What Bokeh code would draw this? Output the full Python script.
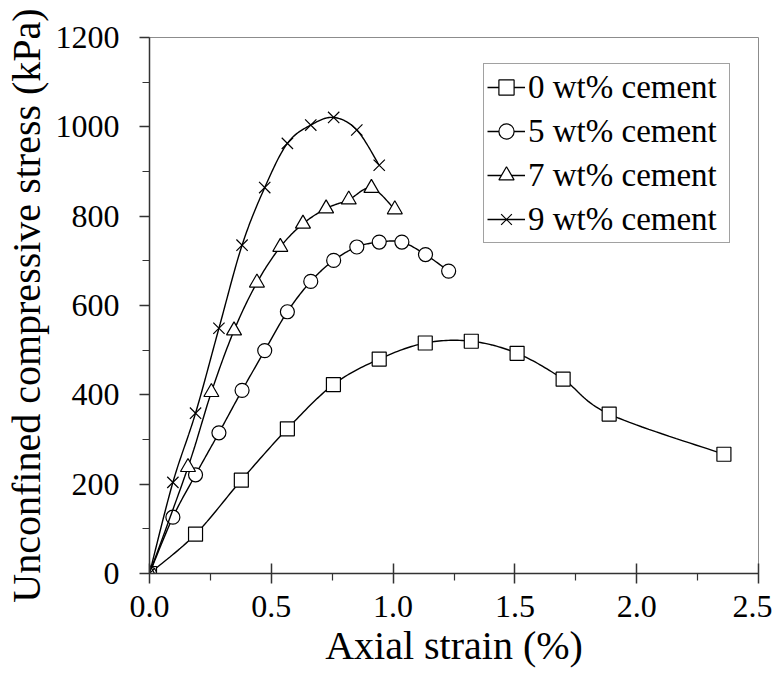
import numpy as np
from bokeh.plotting import figure
from bokeh.models import FixedTicker, Legend, LegendItem, NumeralTickFormatter
from bokeh.embed import file_html
from bokeh.resources import INLINE

# ---- data ----
strain_0 = [0.0, 0.189, 0.377, 0.566, 0.755, 0.943, 1.132, 1.321, 1.509, 1.698, 1.887, 2.358]
stress_0 = [0, 88, 209, 324, 423, 480, 516, 520, 493, 435, 357, 267]

strain_5 = [0.0, 0.096, 0.189, 0.285, 0.380, 0.473, 0.566, 0.662, 0.756, 0.851, 0.943, 1.036, 1.133, 1.228]
stress_5 = [0, 126, 221, 315, 410, 499, 586, 654, 701, 731, 742, 742, 714, 677]

strain_7 = [0.0, 0.158, 0.254, 0.347, 0.441, 0.537, 0.630, 0.725, 0.818, 0.911, 1.007]
stress_7 = [0, 238, 406, 544, 651, 731, 783, 817, 837, 863, 815]

strain_9 = [0.0, 0.096, 0.189, 0.285, 0.380, 0.473, 0.566, 0.662, 0.756, 0.851, 0.943]
stress_9 = [0, 204, 359, 549, 735, 864, 963, 1004, 1021, 993, 914]

labels = ["0 wt% cement", "5 wt% cement", "7 wt% cement", "9 wt% cement"]
x_title = "Axial strain (%)"
y_title = "Unconfined compressive stress (kPa)"
x_ticks = [0.0, 0.5, 1.0, 1.5, 2.0, 2.5]
x_minor = [0.25, 0.75, 1.25, 1.75, 2.25]
y_ticks = [0, 200, 400, 600, 800, 1000, 1200]
y_minor = [100, 300, 500, 700, 900, 1100]

FONT = "Liberation Serif"


def smooth(xs, ys, n=20):
    """Bezier smoothing through the points (like a spreadsheet 'smoothed line')."""
    x = np.asarray(xs, float)
    y = np.asarray(ys, float)
    px = np.concatenate([[x[0]], x, [x[-1]]])
    py = np.concatenate([[y[0]], y, [y[-1]]])
    ox, oy = [], []
    t = np.linspace(0, 1, n, endpoint=False)
    for i in range(1, len(px) - 2):
        p0x, p1x, p2x, p3x = px[i - 1], px[i], px[i + 1], px[i + 2]
        p0y, p1y, p2y, p3y = py[i - 1], py[i], py[i + 1], py[i + 2]
        c1x = p1x + (p2x - p0x) / 6.0
        c1y = p1y + (p2y - p0y) / 6.0
        c2x = p2x - (p3x - p1x) / 6.0
        c2y = p2y - (p3y - p1y) / 6.0
        b0 = (1 - t) ** 3
        b1 = 3 * (1 - t) ** 2 * t
        b2 = 3 * (1 - t) * t ** 2
        b3 = t ** 3
        ox.extend(b0 * p1x + b1 * c1x + b2 * c2x + b3 * p2x)
        oy.extend(b0 * p1y + b1 * c1y + b2 * c2y + b3 * p2y)
    ox.append(x[-1])
    oy.append(y[-1])
    return ox, oy


p = figure(
    frame_width=609, frame_height=536,
    x_range=(0, 2.5), y_range=(0, 1200),
    output_backend="svg", toolbar_location=None,
    min_border_left=148, min_border_right=14, min_border_top=37, min_border_bottom=60,
)
p.background_fill_color = "white"
p.border_fill_color = "white"
p.outline_line_color = "#8c8c8c"
p.outline_line_width = 1
p.xgrid.visible = False
p.ygrid.visible = False

series = [
    (strain_0, stress_0, "square", 14),
    (strain_5, stress_5, "circle", 14),
    (strain_7, stress_7, "triangle", 15),
    (strain_9, stress_9, "x", 16),
]

items = []
for (xs, ys, marker, size), lab in zip(series, labels):
    sx, sy = smooth(xs, ys)
    ln = p.line(sx, sy, line_color="black", line_width=1.4)
    sc = p.scatter(xs, ys, marker=marker, size=size,
                   fill_color="white" if marker != "x" else None,
                   line_color="black", line_width=1.2)
    items.append(LegendItem(label=lab, renderers=[ln, sc]))

legend = Legend(items=items, location=(334, 330))
legend.label_text_font = FONT
legend.label_text_font_size = "33px"
legend.label_text_color = "black"
legend.glyph_width = 38
legend.glyph_height = 40
legend.label_height = 40
legend.label_width = 198
legend.label_standoff = 3
legend.spacing = 4
legend.padding = 3
legend.margin = 0
legend.border_line_color = "#444444"
legend.border_line_width = 1
legend.background_fill_color = "white"
legend.background_fill_alpha = 1
p.add_layout(legend)

# axes
xa = p.xaxis[0]
xa.ticker = FixedTicker(ticks=x_ticks, minor_ticks=x_minor)
xa.formatter = NumeralTickFormatter(format="0.0")
xa.axis_label = x_title
xa.axis_label_text_font = FONT
xa.axis_label_text_font_size = "40px"
xa.axis_label_text_font_style = "normal"
xa.axis_label_text_color = "black"
xa.axis_label_standoff = 3
xa.major_label_text_font = FONT
xa.major_label_text_font_size = "32px"
xa.major_label_text_color = "black"
xa.major_label_standoff = 12
xa.major_tick_in = 10
xa.major_tick_out = 10
xa.minor_tick_in = 0
xa.minor_tick_out = 7
xa.axis_line_color = "#333333"
xa.axis_line_width = 1.5
xa.major_tick_line_color = "#333333"
xa.major_tick_line_width = 1.5
xa.minor_tick_line_color = "#333333"
xa.minor_tick_line_width = 1.2

ya = p.yaxis[0]
ya.ticker = FixedTicker(ticks=y_ticks, minor_ticks=y_minor)
ya.axis_label = y_title
ya.axis_label_text_font = FONT
ya.axis_label_text_font_size = "40px"
ya.axis_label_text_font_style = "normal"
ya.axis_label_text_color = "black"
ya.axis_label_standoff = 4
ya.major_label_text_font = FONT
ya.major_label_text_font_size = "32px"
ya.major_label_text_color = "black"
ya.major_label_standoff = 20
ya.major_tick_in = 0
ya.major_tick_out = 10
ya.minor_tick_in = 0
ya.minor_tick_out = 7
ya.axis_line_color = "#333333"
ya.axis_line_width = 1.5
ya.major_tick_line_color = "#333333"
ya.major_tick_line_width = 1.5
ya.minor_tick_line_color = "#333333"
ya.minor_tick_line_width = 1.2

open("out.html", "w").write(file_html(p, INLINE))
